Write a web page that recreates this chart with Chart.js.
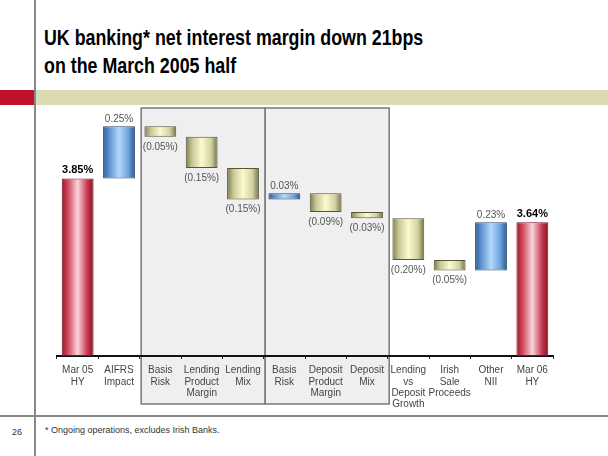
<!DOCTYPE html>
<html>
<head>
<meta charset="utf-8">
<script src="https://cdn.jsdelivr.net/npm/chart.js@4/dist/chart.umd.min.js"></script>
<style>
  body { margin: 0; background: #fff; }
  #slide { position: relative; width: 608px; height: 456px; overflow: hidden; font-family: "Liberation Sans", Arial, sans-serif; }
  .abs { position: absolute; }
  #title { left: 44px; top: 24px; font-family: "Liberation Sans", Arial, sans-serif; font-weight: bold; font-size: 22px; line-height: 28px; color: #000; white-space: nowrap; transform: scaleX(0.81); transform-origin: 0 0; }
  #redband { left: 0; top: 90px; width: 35px; height: 15px; background: #c0102c; }
  #khakiband { left: 35px; top: 90px; width: 573px; height: 15px; background: #dadab4; }
  #vline { left: 34px; top: 0; width: 2px; height: 456px; background: #888; }
  #hline { left: 0; top: 415px; width: 608px; height: 1.5px; background: #888; }
  #page { left: 12px; top: 427px; font-size: 9px; color: #333; }
  #note { left: 45px; top: 425px; font-size: 9px; color: #333; }
  canvas { position: absolute; left: 0; top: 0; }
</style>
</head>
<body>
<div id="slide">
  <div class="abs" id="title">UK banking* net interest margin down 21bps<br>on the March 2005 half</div>
  <div class="abs" id="redband"></div>
  <div class="abs" id="khakiband"></div>
  <div class="abs" id="vline"></div>
  <div class="abs" id="hline"></div>
  <div class="abs" id="page">26</div>
  <div class="abs" id="note">* Ongoing operations, excludes Irish Banks.</div>
  <canvas id="chart" width="608" height="456"></canvas>
</div>
<script>
// chart data
const categories = [
  ['Mar 05', 'HY'], ['AIFRS', 'Impact'], ['Basis', 'Risk'], ['Lending', 'Product', 'Margin'],
  ['Lending', 'Mix'], ['Basis', 'Risk'], ['Deposit', 'Product', 'Margin'], ['Deposit', 'Mix'],
  ['Lending', 'vs', 'Deposit', 'Growth'], ['Irish', 'Sale', 'Proceeds'], ['Other', 'NII'], ['Mar 06', 'HY']
];
const startMargin = 3.85;
const changes = [0.25, -0.05, -0.15, -0.15, 0.03, -0.09, -0.03, -0.20, -0.05, 0.23];
const endMargin = 3.64;
const axisMin = 3.0;
const axisMax = 4.25;
// grouped boxes (category index ranges)
const groups = [[2, 4], [5, 7]];

// waterfall ranges
const ranges = [[axisMin, startMargin]];
const kinds = ['total'];
let level = startMargin;
changes.forEach(c => {
  ranges.push([level, level + c]);
  kinds.push(c >= 0 ? 'up' : 'down');
  level += c;
});
ranges.push([axisMin, endMargin]);
kinds.push('total');
const labels = [startMargin, ...changes, endMargin];

const shades = {
  total: ['#9c1426', '#d04c60', '#f8d4dc', '#c83a50', '#8a0e20'],
  up:    ['#2c5c94', '#5f95d2', '#b4d8fa', '#6aa2dc', '#2a5488'],
  down:  ['#7c7c50', '#c8c896', '#fbfbd0', '#d0d0a0', '#707046']
};
const edges = { total: '#7a1020', up: '#2a4468', down: '#55553a' };
const barPct = 0.77;

function barFill(ctx) {
  const chart = ctx.chart;
  if (!chart.chartArea) return '#ccc';
  const xs = chart.scales.x;
  const cx = xs.getPixelForValue(ctx.dataIndex);
  const w = xs.width / categories.length * barPct;
  const g = chart.ctx.createLinearGradient(cx - w / 2, 0, cx + w / 2, 0);
  const s = shades[kinds[ctx.dataIndex]];
  g.addColorStop(0, s[0]);
  g.addColorStop(0.2, s[1]);
  g.addColorStop(0.5, s[2]);
  g.addColorStop(0.8, s[3]);
  g.addColorStop(1, s[4]);
  return g;
}

const boxPlugin = {
  id: 'boxes',
  beforeDraw(chart) {
    const c = chart.ctx, xs = chart.scales.x;
    c.save();
    groups.forEach(([a, b]) => {
      const l = xs.getPixelForValue(a - 0.5) + 1.5;
      const r = xs.getPixelForValue(b + 0.5) + 1.5;
      c.fillStyle = '#efefef';
      c.fillRect(l, 108, r - l, 296);
      c.strokeStyle = '#7a7a7a';
      c.lineWidth = 1.5;
      c.strokeRect(l, 108, r - l, 296);
    });
    c.restore();
  }
};

const valuePlugin = {
  id: 'values',
  afterDatasetsDraw(chart) {
    const c = chart.ctx;
    const meta = chart.getDatasetMeta(0);
    c.save();
    c.textAlign = 'center';
    meta.data.forEach((el, i) => {
      const top = Math.min(el.y, el.base), bottom = Math.max(el.y, el.base);
      const v = labels[i];
      if (kinds[i] === 'total') {
        c.font = 'bold 11px "Liberation Sans", Arial, sans-serif';
        c.fillStyle = '#000';
        c.textBaseline = 'bottom';
        c.fillText(v.toFixed(2) + '%', el.x, top - 3);
      } else if (v >= 0) {
        c.font = '10px "Liberation Sans", Arial, sans-serif';
        c.fillStyle = '#555';
        c.textBaseline = 'bottom';
        c.fillText(v.toFixed(2) + '%', el.x, top - 2);
      } else {
        c.font = '10px "Liberation Sans", Arial, sans-serif';
        c.fillStyle = '#555';
        c.textBaseline = 'top';
        c.fillText('(' + Math.abs(v).toFixed(2) + '%)', el.x, bottom + 5);
      }
    });
    c.restore();
  }
};

new Chart(document.getElementById('chart'), {
  type: 'bar',
  data: {
    labels: categories,
    datasets: [{
      data: ranges,
      backgroundColor: barFill,
      borderColor: ctx => edges[kinds[ctx.dataIndex]],
      borderWidth: 1,
      borderSkipped: false,
      barPercentage: barPct,
      categoryPercentage: 1
    }]
  },
  options: {
    responsive: false,
    animation: false,
    layout: { padding: { left: 57, right: 55, top: 95, bottom: 40 } },
    plugins: { legend: { display: false }, tooltip: { enabled: false } },
    scales: {
      x: {
        grid: { drawOnChartArea: false, tickLength: 3, color: '#222', offset: true },
        border: { color: '#111', width: 2 },
        ticks: { color: '#444', font: { size: 10, family: '"Liberation Sans", Arial, sans-serif', lineHeight: 1.13 }, padding: 6, maxRotation: 0, autoSkip: false },
        afterFit(scale) { scale.height = 60; }
      },
      y: { display: false, min: axisMin, max: axisMax }
    }
  },
  plugins: [boxPlugin, valuePlugin]
});
</script>
</body>
</html>
